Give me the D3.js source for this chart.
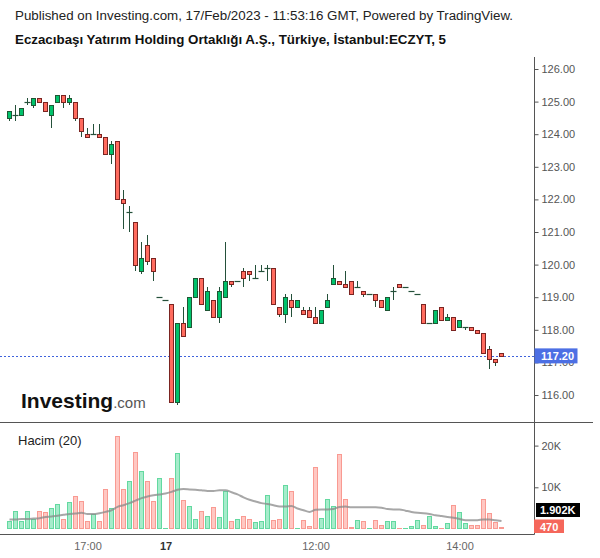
<!DOCTYPE html>
<html><head><meta charset="utf-8">
<script src="https://cdn.jsdelivr.net/npm/d3@7"></script>
<style>
html,body{margin:0;padding:0;background:#fff;}
svg{display:block;font-family:"Liberation Sans",Arial,sans-serif;}
</style></head>
<body><svg id="c" width="600" height="558"></svg>
<script>
const openP = [124.5,124.6,124.6,125.0,124.9,125.1,125.0,124.6,125.0,125.2,125.0,125.0,124.5,124.0,124.0,124.0,123.9,123.4,123.8,122.0,121.6,121.3,119.8,120.6,120.2,119.0,118.9,118.8,115.8,118.2,118.1,119.0,119.6,118.6,118.9,118.4,119.0,119.5,119.5,119.8,119.8,119.6,119.8,119.9,119.9,118.7,118.5,118.9,118.7,118.6,118.6,118.4,118.2,118.7,119.4,119.5,119.4,119.5,119.3,119.2,119.1,119.1,118.9,118.6,119.2,119.4,119.3,119.2,119.1,118.8,118.2,118.2,118.7,118.3,118.4,118.1,118.1,118.1,118.0,117.9,117.4,117.1,117.3];
const highP = [124.7,124.9,124.8,125.1,125.1,125.1,125.0,124.9,125.2,125.2,125.2,125.0,124.5,124.2,124.3,124.3,123.9,123.8,123.8,122.3,121.8,121.3,120.7,120.9,120.2,119.0,118.9,118.8,118.2,118.7,119.0,119.6,119.6,119.3,118.9,119.3,120.7,119.5,119.5,119.9,119.8,120.0,120.0,120.0,119.9,118.7,119.1,119.1,118.9,118.7,118.7,118.7,118.6,119.1,120.0,119.5,119.8,119.5,119.5,119.2,119.1,119.1,118.9,119.0,119.3,119.4,119.3,119.2,119.1,118.8,118.2,118.6,118.7,118.5,118.4,118.3,118.1,118.1,118.0,117.9,117.5,117.1,117.3];
const lowP = [124.4,124.4,124.6,124.9,124.8,125.0,124.7,124.2,125.0,124.8,124.9,124.4,123.9,123.9,124.0,123.9,123.4,123.1,122.0,121.1,121.0,119.8,119.7,120.0,119.5,119.0,118.9,115.8,115.7,117.8,118.1,119.0,118.8,118.6,118.4,118.2,119.0,119.3,119.5,119.3,119.5,119.6,119.8,119.5,118.8,118.4,118.2,118.4,118.7,118.5,118.4,118.2,118.2,118.7,119.4,119.4,119.3,119.1,119.3,119.0,119.1,118.7,118.7,118.6,118.9,119.3,119.3,119.2,119.1,118.2,118.2,118.2,118.3,118.3,118.0,118.1,118.0,118.0,117.9,117.3,116.8,116.9,117.2];
const closeP = [124.7,124.6,124.8,125.0,125.1,125.0,124.7,124.9,125.2,125.0,125.1,124.5,124.1,123.9,124.0,123.9,123.4,123.7,122.0,121.9,121.6,120.0,120.2,120.1,119.8,119.0,118.9,115.8,118.2,117.8,119.0,119.6,118.8,119.2,118.4,119.2,119.5,119.4,119.5,119.6,119.7,119.6,119.8,119.9,118.8,118.5,119.0,118.7,118.9,118.5,118.4,118.2,118.6,118.9,119.6,119.4,119.3,119.1,119.3,119.1,119.1,118.9,118.7,119.0,119.2,119.3,119.3,119.2,119.1,118.2,118.2,118.6,118.3,118.4,118.0,118.3,118.1,118.0,117.9,117.3,117.1,117.0,117.2];
const volumeK = [1.85,4.3,1.85,4.3,2.3,4.3,4.0,5.0,5.9,2.3,6.4,7.8,6.6,1.85,3.5,1.85,9.5,5.0,22.3,9.5,11.4,18.4,13.8,11.4,6.6,12.2,0.1,12.2,18.2,6.9,5.4,2.3,4.2,3.0,5.2,2.8,9.0,1.85,2.3,3.0,2.3,1.6,1.85,8.1,2.1,2.3,10.5,9.0,0.2,2.1,0.65,14.8,2.6,7.1,5.4,17.9,7.1,0.4,2.1,1.85,0.2,2.1,0.9,1.85,1.85,0.2,0.2,0.65,2.1,0.9,3.0,0.65,0.2,1.4,5.7,4.0,1.4,1.0,0.9,7.1,3.8,1.6,0.47];
const volumeMA = [2.3,2.3,2.4,2.4,2.5,2.6,2.9,3.0,3.2,3.4,3.6,3.7,3.9,3.6,3.6,3.8,4.1,4.5,5.3,5.7,6.2,6.8,7.4,7.8,8.1,8.3,8.5,8.9,9.4,9.6,9.5,9.4,9.3,9.1,9.1,9.3,9.3,8.8,8.3,7.6,7.0,6.6,6.2,6.0,5.7,5.4,5.4,5.5,4.9,4.5,4.1,4.6,4.7,4.7,4.8,5.3,5.4,5.2,5.2,5.2,5.2,5.2,5.1,4.8,4.7,4.7,4.4,4.1,3.9,3.8,3.6,3.3,3.1,2.9,2.7,2.4,2.1,2.1,2.1,2.3,2.3,2.1,1.9];
const timeTickIdx = [13, 26, 51, 75];
const timeTickLabels = ["17:00", "17", "12:00", "14:00"];
const timeTickBold = [false, true, false, false];
const priceTicks = [116,117,118,119,120,121,122,123,124,125,126];
const volumeTicks = [10, 20];
const lastPrice = 117.20;
const lastVolLabel = "470";
const lastMALabel = "1.902K";
const title1 = "Published on Investing.com, 17/Feb/2023 - 11:53:16 GMT, Powered by TradingView.";
const title2 = "Eczacıbaşı Yatırım Holding Ortaklığı A.Ş., Türkiye, İstanbul:ECZYT, 5";

const N = closeP.length;
const idx = d3.range(N);
const svg = d3.select("#c");

const UP = "#00c26b", UPB = "#1f5634", DN = "#ff6b5e", DNB = "#7a2421", WICK = "#24503a";
const AX = "#555";

const x = d3.scaleLinear().domain([0, N - 1]).range([9.5, 9.5 + 6 * (N - 1)]);
const y = d3.scaleLinear().domain([116, 126]).range([395, 69]);
const yv = d3.scaleLinear().domain([0, 20]).range([529, 445.6]);
const axisX = 534.5;

// titles
svg.append("text").attr("x", 15).attr("y", 20).attr("font-size", 12.5).attr("fill", "#222")
  .attr("textLength", 498).attr("lengthAdjust", "spacingAndGlyphs").text(title1);
svg.append("text").attr("x", 15).attr("y", 44).attr("font-size", 12.5).attr("font-weight", "bold").attr("fill", "#111")
  .attr("textLength", 431).attr("lengthAdjust", "spacingAndGlyphs").text(title2);

// panes lines
svg.append("line").attr("x1", axisX).attr("x2", axisX).attr("y1", 57).attr("y2", 534.5).attr("stroke", AX);
svg.append("line").attr("x1", 0).attr("x2", 593).attr("y1", 422.5).attr("y2", 422.5).attr("stroke", AX);
svg.append("line").attr("x1", 0).attr("x2", axisX).attr("y1", 534.5).attr("y2", 534.5).attr("stroke", AX);

// price axis
const pAxis = svg.append("g").attr("transform", `translate(${axisX},0)`)
  .call(d3.axisRight(y).tickValues(priceTicks).tickFormat(d3.format(".2f")).tickSize(4).tickPadding(3));
pAxis.select(".domain").remove();
pAxis.selectAll("line").attr("stroke", AX);
pAxis.selectAll("text").attr("font-size", 11).attr("fill", "#555").attr("font-family", "Liberation Sans, Arial, sans-serif");

// volume axis
const vAxis = svg.append("g").attr("transform", `translate(${axisX},0)`)
  .call(d3.axisRight(yv).tickValues(volumeTicks).tickFormat(d => d + "K").tickSize(4).tickPadding(3));
vAxis.select(".domain").remove();
vAxis.selectAll("line").attr("stroke", AX);
vAxis.selectAll("text").attr("font-size", 11).attr("fill", "#555").attr("font-family", "Liberation Sans, Arial, sans-serif");

// time axis
const tAxis = svg.append("g").attr("transform", "translate(0,534.5)")
  .call(d3.axisBottom(x).tickValues(timeTickIdx).tickFormat((d, i) => timeTickLabels[i]).tickSize(0).tickPadding(8));
tAxis.select(".domain").remove();
tAxis.selectAll("text").attr("font-size", 11).attr("font-family", "Liberation Sans, Arial, sans-serif")
  .attr("fill", (d, i) => timeTickBold[i] ? "#333" : "#666")
  .attr("font-weight", (d, i) => timeTickBold[i] ? "bold" : "normal");

// logo
const logo = svg.append("text").attr("x", 21).attr("y", 408).attr("fill", "#111");
logo.append("tspan").attr("font-size", 21).attr("font-weight", "bold").text("Investing");
logo.append("tspan").attr("font-size", 15).attr("fill", "#555").text(".com");

// last price dashed line
svg.append("line").attr("x1", 0).attr("x2", axisX).attr("y1", Math.round(y(lastPrice)) + 0.5).attr("y2", Math.round(y(lastPrice)) + 0.5)
  .attr("stroke", "#3f63dc").attr("stroke-dasharray", "2,2");

// volume bars
const isUp = i => closeP[i] >= openP[i];
const pr = v => Math.round(v) + 0.5;
svg.append("g").selectAll("rect").data(idx).join("rect")
  .attr("x", i => x(i) - 2).attr("width", 4)
  .attr("y", i => Math.min(pr(yv(volumeK[i])), 528.5))
  .attr("height", i => Math.max(528.5 - Math.min(pr(yv(volumeK[i])), 528.5), 0.01))
  .attr("fill", i => isUp(i) ? "#a6eccb" : "#ffc8c3")
  .attr("stroke", i => isUp(i) ? "#63d9a0" : "#f99a92").attr("stroke-width", 1);

// volume MA
svg.append("path").datum(idx)
  .attr("d", d3.line().x(i => x(i)).y(i => yv(volumeMA[i])).curve(d3.curveMonotoneX))
  .attr("fill", "none").attr("stroke", "#8a8a8a").attr("stroke-opacity", 0.75).attr("stroke-width", 2);

// Hacim legend
svg.append("text").attr("x", 18).attr("y", 444.5).attr("font-size", 13).attr("fill", "#222").text("Hacim (20)");

// wicks
svg.append("g").selectAll("line").data(idx.filter(i => highP[i] !== lowP[i])).join("line")
  .attr("x1", i => x(i)).attr("x2", i => x(i))
  .attr("y1", i => Math.round(y(highP[i]))).attr("y2", i => Math.round(y(lowP[i])))
  .attr("stroke", WICK).attr("stroke-width", 1);

// doji dashes
svg.append("g").selectAll("line").data(idx.filter(i => openP[i] === closeP[i])).join("line")
  .attr("x1", i => x(i) - 3).attr("x2", i => x(i) + 3)
  .attr("y1", i => pr(y(closeP[i]))).attr("y2", i => pr(y(closeP[i])))
  .attr("stroke", WICK).attr("stroke-width", 1.2);

// bodies
svg.append("g").selectAll("rect").data(idx.filter(i => openP[i] !== closeP[i])).join("rect")
  .attr("x", i => x(i) - 2).attr("width", 4)
  .attr("y", i => pr(y(Math.max(openP[i], closeP[i]))))
  .attr("height", i => pr(y(Math.min(openP[i], closeP[i]))) - pr(y(Math.max(openP[i], closeP[i]))))
  .attr("fill", i => isUp(i) ? UP : DN)
  .attr("stroke", i => isUp(i) ? UPB : DNB).attr("stroke-width", 1);

// last price label
const ly = y(lastPrice);
svg.append("rect").attr("x", axisX).attr("y", ly - 7.5).attr("width", 43).attr("height", 15).attr("fill", "#4c6fe4");
svg.append("text").attr("x", 541).attr("y", ly + 4).attr("font-size", 11).attr("font-weight", "bold").attr("fill", "#fff").text(d3.format(".2f")(lastPrice));

// volume MA label
svg.append("rect").attr("x", 536).attr("y", 503).attr("width", 44).attr("height", 14).attr("fill", "#000");
svg.append("text").attr("x", 540).attr("y", 514).attr("font-size", 11).attr("font-weight", "bold").attr("fill", "#fff").text(lastMALabel);
// last volume label
svg.append("rect").attr("x", 534).attr("y", 519.5).attr("width", 30).attr("height", 13.5).attr("fill", "#f5675b");
svg.append("text").attr("x", 540).attr("y", 530.5).attr("font-size", 11).attr("font-weight", "bold").attr("fill", "#fff").text(lastVolLabel);
</script></body></html>
